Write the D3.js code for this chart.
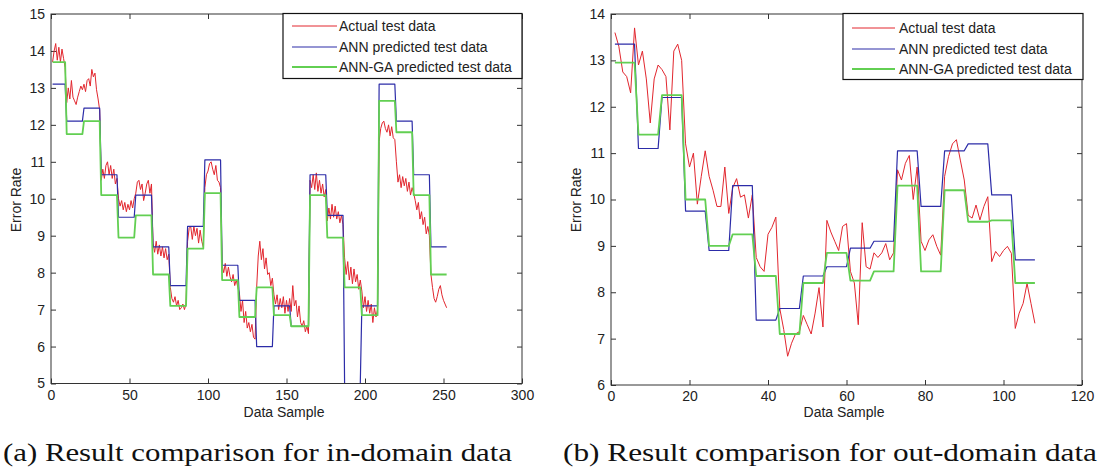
<!DOCTYPE html>
<html>
<head>
<meta charset="utf-8">
<script src="https://cdn.jsdelivr.net/npm/d3@7"></script>
<style>
  body { margin: 0; background: #fff; }
  svg { display: block; }
</style>
</head>
<body>
<svg id="chart" width="1104" height="470"></svg>
<script>
// ---- data: (a) in-domain ----
const inXTicks = [0, 50, 100, 150, 200, 250, 300];
const inYTicks = [5, 6, 7, 8, 9, 10, 11, 12, 13, 14, 15];
const inActual = [
  13.7, 14.0, 14.2, 13.75, 14.1, 13.7, 14.05, 13.8, 13.55,
  12.6, 13.0, 12.7, 13.2, 12.75, 12.65, 12.55, 12.75, 12.9, 13.05, 12.95,
  13.1, 12.9, 13.2, 13.25, 13.05, 13.5, 13.3, 13.4, 12.95, 12.7, 12.4,
  10.5, 10.8, 10.55, 10.9, 11.0, 10.65, 10.9, 10.55, 10.8, 10.4, 10.55,
  10.0, 9.8, 9.95, 9.7, 9.9, 9.65, 9.85, 9.7, 9.95, 9.75, 10.0,
  10.15, 10.45, 10.5, 10.25, 10.4, 9.95, 10.15, 10.4, 10.5, 10.15, 10.4,
  8.8, 8.55, 8.85, 8.5, 8.75, 8.45, 8.7, 8.4, 8.65, 8.35, 8.5,
  7.6, 7.3, 7.2, 7.35, 7.1, 7.25, 7.0, 7.05, 7.15, 7.0, 7.15,
  8.85, 9.2, 9.25, 8.9, 9.25, 9.0, 9.2, 8.8, 9.15, 8.85, 8.7,
  10.3, 10.65, 10.75, 10.95, 11.0, 10.8, 10.65, 10.9, 10.5, 10.45, 10.3,
  8.2, 8.0, 8.25, 7.9, 8.15, 7.9, 7.75, 7.95, 7.65, 7.8, 7.6,
  7.45, 6.95, 7.25, 6.65, 6.95, 6.5, 6.65, 6.4, 6.6, 6.25, 6.2,
  7.6, 8.45, 8.85, 8.35, 8.65, 8.1, 8.4, 7.95, 8.0, 7.65, 7.85,
  7.4, 7.15, 7.4, 7.0, 7.3, 7.05, 7.35, 6.9, 7.25, 6.95, 7.3,
  6.95, 7.65, 7.1, 7.25, 6.8, 7.1, 6.65, 6.55, 6.7, 6.4, 6.55, 6.35,
  10.5, 10.3, 10.65, 10.25, 10.7, 10.2, 10.5, 10.15, 10.4, 10.05, 10.25,
  9.4, 9.75, 9.45, 9.85, 9.5, 9.8, 9.45, 9.65, 9.35, 9.55, 9.3,
  8.4, 7.95, 8.3, 7.8, 8.15, 7.7, 8.1, 7.75, 7.95, 7.55, 7.8,
  7.5, 7.05, 7.35, 6.95, 7.25, 6.9, 7.15, 6.65, 7.05, 6.8, 7.0,
  11.55, 11.9, 12.05, 12.1, 11.9, 11.8, 12.0, 11.7, 11.95, 11.65, 11.6,
  11.0, 10.45, 10.65, 10.3, 10.6, 10.35, 10.55, 10.2, 10.45, 10.1, 10.3,
  10.15, 9.95, 9.7, 9.9, 9.45, 9.65, 9.3, 9.5, 9.05, 9.25, 9.0,
  7.95, 7.6, 7.3, 7.2, 7.35, 7.55, 7.65, 7.4, 7.25, 7.15, 7.05
];
// last sample of each prediction block
const inBlockEnds = [9, 20, 31, 42, 53, 64, 75, 86, 97, 108, 119, 130, 141, 152, 164, 175, 186, 197, 208, 219, 230, 241, 252];
const inAnn = [13.1, 12.1, 12.45, 10.65, 9.5, 10.1, 8.7, 7.65, 9.25, 11.05, 8.2, 7.25, 6.0, 7.1, 6.55, 10.65, 9.55, 5.0, 7.1, 13.1, 12.1, 10.65, 8.7];
const inAnnGa = [13.7, 11.75, 12.1, 10.1, 8.95, 9.55, 7.95, 7.1, 8.65, 10.15, 7.8, 6.8, 7.6, 6.85, 6.55, 10.1, 8.95, 7.6, 6.85, 12.65, 11.8, 10.1, 7.95];

// ---- data: (b) out-domain ----
const outXTicks = [0, 20, 40, 60, 80, 100, 120];
const outYTicks = [6, 7, 8, 9, 10, 11, 12, 13, 14];
const outActual = [
  13.6, 13.3, 12.75, 12.65, 12.3, 13.7, 12.9, 13.2, 12.6, 11.65,
  12.6, 12.9, 12.8, 12.65, 11.5, 13.2, 13.35, 13.0, 11.2, 10.7,
  11.0, 9.9, 10.5, 11.05, 10.5, 10.2, 9.85, 9.85, 10.7, 9.7,
  10.25, 10.45, 10.05, 10.1, 9.6, 10.1, 8.75, 8.55, 8.45, 9.25,
  9.4, 9.62, 7.65, 7.2, 6.62, 6.9, 7.1, 7.15, 7.5, 7.3,
  7.1, 7.55, 8.1, 7.25, 9.55, 9.3, 9.1, 8.9, 9.42, 9.48,
  8.45, 8.2, 7.3, 9.5, 8.55, 8.5, 8.85, 8.75, 8.85, 9.05,
  8.7, 8.85, 10.64, 10.42, 10.78, 10.95, 10.0, 10.7, 9.1, 8.9,
  9.13, 9.24, 8.99, 8.8, 10.5, 10.93, 11.2, 11.29, 10.85, 10.42,
  9.66, 9.6, 9.88, 9.56, 9.85, 10.06, 8.66, 8.88, 8.77, 8.9,
  8.99, 8.84, 7.22, 7.55, 7.76, 8.19, 7.76, 7.33
];
const outBlockEnds = [6, 12, 18, 24, 30, 36, 42, 48, 54, 60, 66, 72, 78, 84, 90, 96, 102, 108];
const outAnn = [13.35, 11.1, 12.2, 9.75, 8.9, 10.3, 7.4, 7.65, 8.35, 8.55, 8.95, 9.1, 11.05, 9.85, 11.05, 11.2, 10.1, 8.7];
const outAnnGa = [12.95, 11.4, 12.25, 10.0, 9.0, 9.25, 8.35, 7.1, 8.2, 8.85, 8.25, 8.45, 10.3, 8.45, 10.2, 9.52, 9.55, 8.2];

const seriesNames = ["Actual test data", "ANN predicted test data", "ANN-GA predicted test data"];
const seriesColors = ["#e2262e", "#2c2ca8", "#62cf52"];
const seriesWidths = [1, 1.2, 1.8];

const panels = [
  {
    box: { left: 51, top: 14, right: 522, bottom: 383.5 },
    xMax: 300, yMin: 5, yMax: 15, xTicks: inXTicks, yTicks: inYTicks,
    actual: inActual, ends: inBlockEnds, ann: inAnn, annGa: inAnnGa,
    legend: { x: 283, y: 13.5, w: 239, h: 65, rows: [26, 47, 67], lineX: [292, 337], textX: 339 },
    caption: "(a) Result comparison for in-domain data", capX: 3, capW: 509
  },
  {
    box: { left: 611, top: 14, right: 1082, bottom: 385 },
    xMax: 120, yMin: 6, yMax: 14, xTicks: outXTicks, yTicks: outYTicks,
    actual: outActual, ends: outBlockEnds, ann: outAnn, annGa: outAnnGa,
    legend: { x: 843, y: 13.5, w: 240, h: 66, rows: [28, 49, 69], lineX: [852, 895], textX: 899 },
    caption: "(b) Result comparison for out-domain data", capX: 563, capW: 534
  }
];

const svg = d3.select("#chart");
const sans = "'Liberation Sans', Arial, sans-serif";

// turn block values into flat step segments (each block spans start..end sample)
function stepPoints(ends, values) {
  const pts = [];
  values.forEach((v, i) => {
    const start = i === 0 ? 1 : ends[i - 1] + 1;
    pts.push([start, v], [ends[i], v]);
  });
  return pts;
}

panels.forEach((p) => {
  const b = p.box;
  const x = d3.scaleLinear().domain([0, p.xMax]).range([b.left, b.right]);
  const y = d3.scaleLinear().domain([p.yMin, p.yMax]).range([b.bottom, b.top]);
  const g = svg.append("g");

  // axes with inward ticks on all four sides (MATLAB style)
  const styleAxis = (sel) => {
    sel.select(".domain").remove();
    sel.selectAll(".tick line").attr("stroke", "#333");
    sel.selectAll(".tick text").attr("fill", "#222").attr("font-size", 14).attr("font-family", sans);
  };
  g.append("g").attr("transform", `translate(0,${b.bottom})`)
    .call(d3.axisBottom(x).tickValues(p.xTicks).tickSizeInner(-5).tickSizeOuter(0).tickPadding(6.5))
    .call(styleAxis);
  g.append("g").attr("transform", `translate(0,${b.top})`)
    .call(d3.axisTop(x).tickValues(p.xTicks).tickSizeInner(-5).tickSizeOuter(0).tickFormat(""))
    .call(styleAxis);
  g.append("g").attr("transform", `translate(${b.left},0)`)
    .call(d3.axisLeft(y).tickValues(p.yTicks).tickSizeInner(-5).tickSizeOuter(0).tickPadding(6))
    .call(styleAxis);
  g.append("g").attr("transform", `translate(${b.right},0)`)
    .call(d3.axisRight(y).tickValues(p.yTicks).tickSizeInner(-5).tickSizeOuter(0).tickFormat(""))
    .call(styleAxis);

  const line = d3.line().x((d) => x(d[0])).y((d) => y(d[1]));
  const series = [
    p.actual.map((v, i) => [i + 1, v]),
    stepPoints(p.ends, p.ann),
    stepPoints(p.ends, p.annGa)
  ];
  series.forEach((pts, i) => {
    g.append("path")
      .datum(pts)
      .attr("d", line)
      .attr("fill", "none")
      .attr("stroke", seriesColors[i])
      .attr("stroke-width", seriesWidths[i])
      .attr("stroke-linejoin", "round");
  });

  // plot box
  g.append("rect")
    .attr("x", b.left).attr("y", b.top)
    .attr("width", b.right - b.left).attr("height", b.bottom - b.top)
    .attr("fill", "none").attr("stroke", "#333").attr("stroke-width", 1);

  // axis titles
  g.append("text")
    .attr("x", (b.left + b.right) / 2 - 2.5).attr("y", 417)
    .attr("text-anchor", "middle").attr("font-family", sans).attr("font-size", 14).attr("fill", "#222")
    .text("Data Sample");
  g.append("text")
    .attr("transform", `translate(${b.left - 30},200) rotate(-90)`)
    .attr("text-anchor", "middle").attr("font-family", sans).attr("font-size", 14).attr("fill", "#222")
    .text("Error Rate");

  // legend
  const L = p.legend;
  const lg = g.append("g");
  lg.append("rect")
    .attr("x", L.x).attr("y", L.y).attr("width", L.w).attr("height", L.h)
    .attr("fill", "#fff").attr("stroke", "#111").attr("stroke-width", 1.2);
  seriesNames.forEach((name, i) => {
    lg.append("line")
      .attr("x1", L.lineX[0]).attr("x2", L.lineX[1])
      .attr("y1", L.rows[i]).attr("y2", L.rows[i])
      .attr("stroke", seriesColors[i]).attr("stroke-width", seriesWidths[i]);
    lg.append("text")
      .attr("x", L.textX).attr("y", L.rows[i]).attr("dy", "0.35em")
      .attr("font-family", sans).attr("font-size", 14).attr("fill", "#222")
      .text(name);
  });

  // caption
  svg.append("text")
    .attr("x", p.capX).attr("y", 461)
    .attr("font-family", "'Liberation Serif', 'DejaVu Serif', serif")
    .attr("font-size", 25).attr("fill", "#111")
    .attr("textLength", p.capW).attr("lengthAdjust", "spacingAndGlyphs")
    .text(p.caption);
});
</script>
</body>
</html>
